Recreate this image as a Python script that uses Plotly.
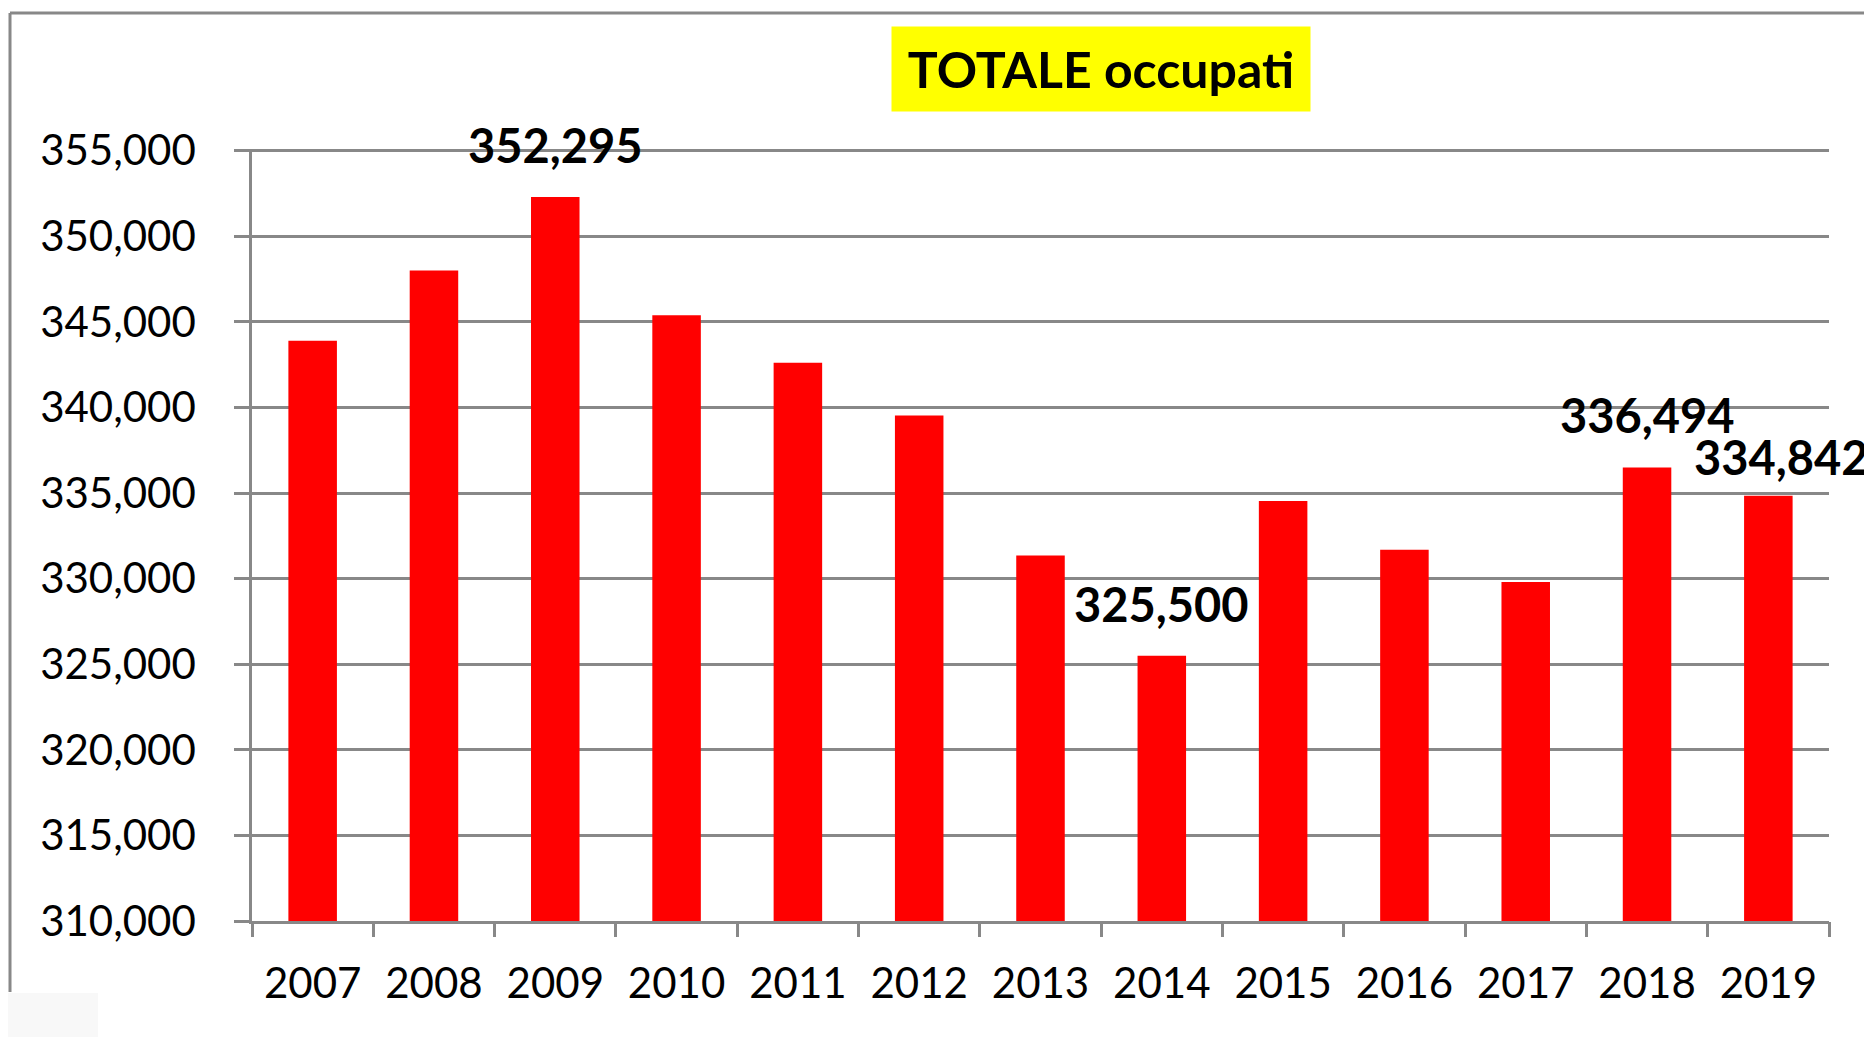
import plotly.graph_objects as go

# ---- data ----
years = ["2007", "2008", "2009", "2010", "2011", "2012", "2013",
         "2014", "2015", "2016", "2017", "2018", "2019"]
occupati = [343900, 348000, 352295, 345390, 342620, 339530, 331350,
            325500, 334530, 331690, 329800, 336494, 334842]
labeled_years = ["2009", "2014", "2018", "2019"]
y_ticks = [310000, 315000, 320000, 325000, 330000, 335000, 340000, 345000, 350000, 355000]
title_text = "TOTALE occupati"

GRAY = "#888888"
FONT = "Lato"

# page body margin offset (browser default)
OFF = 8
W, H = 1872, 1037
# plot area in page pixels: x 252..1829, y 149..921
ML = 252 - OFF
MR = W - (1829 - OFF)
MT = 149 - OFF
MB = H - (921 - OFF)
pw, ph = W - ML - MR, H - MT - MB


def px_x(p):
    """page x pixel -> paper coordinate"""
    return (p - OFF - ML) / pw


def px_y(p):
    """page y pixel -> paper coordinate"""
    return (H - MB - (p - OFF)) / ph


fig = go.Figure()
fig.add_trace(go.Bar(
    x=list(range(len(years))), y=occupati,
    marker=dict(color="#FF0000", line=dict(width=0)),
    hovertext=years, hoverinfo="text+y",
))

# data labels
annotations = []
for i, (yr, v) in enumerate(zip(years, occupati)):
    if yr in labeled_years:
        xs = 13 if yr == "2019" else 0
        ys = 39 if yr == "2019" else 52
        annotations.append(dict(
            x=i, y=v, xref="x", yref="y",
            text=f"{v:,}", showarrow=False,
            xanchor="center", yanchor="middle",
            xshift=xs, yshift=ys,
            font=dict(family=FONT, size=47, color="black", weight="bold"),
        ))

# title box
annotations.append(dict(
    x=px_x(1101), y=px_y(69), xref="paper", yref="paper",
    text=f"<b>{title_text}</b>", showarrow=False,
    xanchor="center", yanchor="middle",
    width=416, height=82, bgcolor="#FFFF00",
    font=dict(family=FONT, size=50, color="black"),
))

shapes = [
    # outer frame (left and top edges)
    dict(type="line", xref="paper", yref="paper",
         x0=px_x(10), x1=px_x(1890), y0=px_y(13), y1=px_y(13),
         line=dict(color=GRAY, width=3)),
    dict(type="line", xref="paper", yref="paper",
         x0=px_x(10), x1=px_x(10), y0=px_y(13), y1=px_y(992),
         line=dict(color=GRAY, width=3)),
    # faint patch bottom-left
    dict(type="rect", xref="paper", yref="paper",
         x0=px_x(-20), x1=px_x(98), y0=px_y(993), y1=px_y(1060),
         fillcolor="#f8f8f8", line=dict(width=0), layer="below"),
]

fig.update_layout(
    width=W, height=H,
    margin=dict(l=ML, r=MR, t=MT, b=MB, autoexpand=False),
    paper_bgcolor="white", plot_bgcolor="white",
    showlegend=False,
    bargap=0.6,
    annotations=annotations,
    shapes=shapes,
    font=dict(family=FONT, color="black"),
)

fig.update_xaxes(
    range=[-0.5, len(years) - 0.5],
    tickmode="array",
    tickvals=list(range(len(years))),
    ticktext=years,
    showline=True, linecolor=GRAY, linewidth=2.5,
    ticks="", showgrid=False, zeroline=False,
    tickfont=dict(family=FONT, size=42, color="black"),
    ticklabelstandoff=24,
)
# boundary tick marks on an overlay axis
fig.update_layout(xaxis2=dict(
    overlaying="x", side="bottom", anchor="y",
    range=[-0.5, len(years) - 0.5],
    tickmode="array",
    tickvals=[i - 0.5 for i in range(len(years) + 1)],
    ticktext=["" for _ in range(len(years) + 1)],
    ticks="outside", ticklen=15, tickcolor=GRAY, tickwidth=2.5,
    showgrid=False, showline=False, zeroline=False,
))
fig.add_trace(go.Scatter(x=[], y=[], xaxis="x2", yaxis="y", showlegend=False))

fig.update_yaxes(
    range=[310000, 355100],
    tickvals=y_ticks,
    tickformat=",d",
    showline=True, linecolor=GRAY, linewidth=2.5,
    ticks="outside", ticklen=15, tickcolor=GRAY, tickwidth=2.5,
    showgrid=True, gridcolor=GRAY, gridwidth=2.5,
    zeroline=False,
    tickfont=dict(family=FONT, size=42, color="black"),
    ticklabelstandoff=30,
)

fig.write_html("out.html")
